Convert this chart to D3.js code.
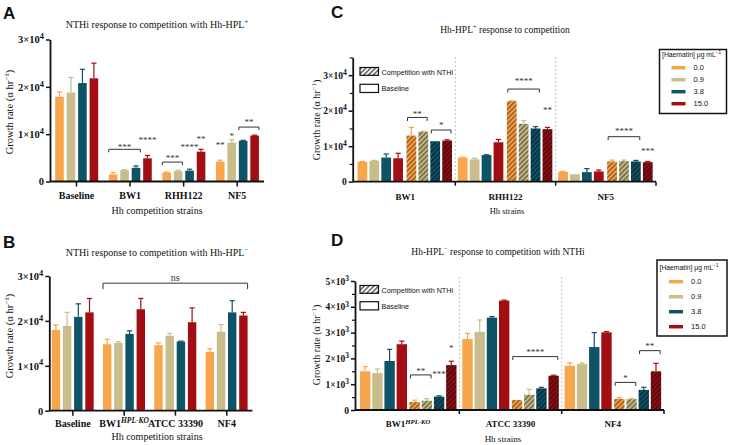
<!DOCTYPE html>
<html><head><meta charset="utf-8">
<script src="https://cdn.jsdelivr.net/npm/d3@7"></script>
<style>body{margin:0;background:#fff}svg{display:block}</style>
</head><body>
<script>
// ---------- shared ----------
const concentrations = ["0.0","0.9","3.8","15.0"];
const barColors = ["#F7A64C","#C9BD8B","#0E5366","#A30E13"];
const compFills = ["#F3A24A","#C4B886","#0E5366","#8C0F14"];
const hatchInk  = ["#7a4210","#4f4a2e","#02202a","#3a0306"];

// ---------- Panel A ----------
const aCategories = ["Baseline","BW1","RHH122","NF5"];
const aMeans  = [[17900,18800,20800,21800],[1500,2400,2900,4900],[1900,2200,2300,6300],[4200,8200,8600,9700]];
const aErrors = [[1000,3200,2900,3200],[400,100,400,600],[100,200,300,500],[300,600,100,100]];
const aYTicks = [0,10000,20000,30000];
const aBrackets = [
  {cat:"BW1",from:0,to:2,v:6800,lv:7700,label:"***"},
  {cat:"RHH122",from:0,to:1,v:4100,lv:5200,label:"***"},
  {cat:"NF5",from:2,to:3,v:11500,lv:12800,label:"**"}];
const aStars = [
  {cat:"BW1",slot:3,v:9000,label:"****"},
  {cat:"RHH122",slot:2,v:7700,label:"****"},
  {cat:"RHH122",slot:3,v:9200,label:"**"},
  {cat:"NF5",slot:0,v:8100,label:"**"},
  {cat:"NF5",slot:1,v:10000,label:"*"}];

// ---------- Panel B ----------
const bCategories = ["Baseline","BW1^HPL-KO","ATCC 33390","NF4"];
const bMeans  = [[18000,18900,20900,21900],[14800,15100,17100,22600],[14600,16700,15400,19700],[13100,17600,21900,21200]];
const bErrors = [[1100,3000,2900,3100],[1100,300,700,2400],[500,500,100,3200],[700,1600,2600,700]];
const bYTicks = [0,10000,20000,30000];
const bBrackets = [{fromCat:"BW1^HPL-KO",from:0,toCat:"NF4",to:3,v:28400,lv:29900,label:"ns"}];

// ---------- Panel C ----------
const cCategories = ["BW1","RHH122","NF5"];
const cBaseline    = [[5600,5900,6800,6600],[6800,6300,7500,11100],[2800,2100,2700,2900]];
const cBaselineErr = [[100,100,1000,1400],[100,300,100,800],[100,0,1000,400]];
const cCompetition    = [[13000,14100,11400,11600],[22700,16300,15000,14800],[5700,5800,5700,5500]];
const cCompetitionErr = [[2300,100,0,200],[100,900,500,500],[400,300,300,200]];
const cYTicks = [0,10000,20000,30000];
const cYMinor = [5000,15000,25000,35000];
const cBrackets = [
  {cat:"BW1",from:0,to:1,v:18100,lv:19400,label:"**"},
  {cat:"BW1",from:2,to:3,v:14560,lv:16300,label:"*"},
  {cat:"RHH122",from:0,to:2,v:26100,lv:28700,label:"****"},
  {cat:"NF5",from:0,to:2,v:12680,lv:14600,label:"****"}];
const cStars = [
  {cat:"RHH122",slot:3,v:20760,label:"**"},
  {cat:"NF5",slot:3,v:8930,label:"***"}];

// ---------- Panel D ----------
const dCategories = ["BW1^HPL-KO","ATCC 33390","NF4"];
const dBaseline    = [[1500,1430,1900,2550],[2750,3030,3580,4240],[1710,1780,2440,3010]];
const dBaselineErr = [[180,160,450,120],[220,460,40,20],[120,40,560,30]];
const dCompetition    = [[310,360,520,1740],[390,590,840,1330],[430,420,780,1500]];
const dCompetitionErr = [[70,80,30,150],[0,210,40,20],[50,30,100,310]];
const dYTicks = [0,1000,2000,3000,4000,5000];
const dYMinor = [500,1500,2500,3500,4500];
const dBrackets = [
  {cat:"BW1^HPL-KO",from:0,to:1,v:1360,lv:1560,label:"**"},
  {cat:"ATCC 33390",from:0,to:3,v:2070,lv:2290,label:"****"},
  {cat:"NF4",from:0,to:1,v:1070,lv:1280,label:"*"},
  {cat:"NF4",from:2,to:3,v:2300,lv:2520,label:"**"}];
const dStars = [
  {cat:"BW1^HPL-KO",slot:2,v:1445,label:"***"},
  {cat:"BW1^HPL-KO",slot:3,v:2480,label:"*"}];

// ---------- setup ----------
const SERIF = "'Liberation Serif','Times New Roman',serif";
const SANS = "'Liberation Sans',Arial,sans-serif";
const svg = d3.select("body").append("svg").attr("width",730).attr("height",445)
  .style("font-family",SERIF);
const defs = svg.append("defs");
function makeHatch(id,bg,ink){
  const p = defs.append("pattern").attr("id",id).attr("patternUnits","userSpaceOnUse")
    .attr("width",3.4).attr("height",3.4).attr("patternTransform","rotate(45)");
  p.append("rect").attr("width",3.4).attr("height",3.4).attr("fill",bg);
  p.append("line").attr("x1",0.8).attr("x2",0.8).attr("y1",0).attr("y2",3.4)
    .attr("stroke",ink).attr("stroke-width",1.1);
}
compFills.forEach((c,i)=>makeHatch("hatch"+i,c,hatchInk[i]));
makeHatch("hatchW","#fff","#222");

function rich(sel, parts, fs, supScale=0.68){
  sel.text(null);
  let shift = 0;
  parts.forEach(([s,kind])=>{
    const t = sel.append("tspan").text(s);
    const target = kind==="n" ? 0 : -fs*0.4;
    if (target!==shift) t.attr("dy", target-shift);
    shift = target;
    if (kind!=="n") t.attr("font-size", fs*supScale);
    if (kind==="si") t.attr("font-style","italic");
  });
}
function catParts(s){
  const [m,sup] = s.split("^");
  return sup ? [[m,"n"],[sup,"si"]] : [[m,"n"]];
}
function yTickParts(v,e){
  return v===0 ? [["0","n"]] : [[(v/Math.pow(10,e))+"×10","n"],[String(e),"s"]];
}
function text(x,y,parts,fs,opts={}){
  const t = svg.append("text").attr("x",x).attr("y",y).attr("font-size",fs)
    .attr("text-anchor",opts.anchor||"middle").attr("fill",opts.fill||"#111")
    .attr("font-family",opts.family||SERIF).attr("font-weight",opts.weight||"normal");
  rich(t,parts,fs);
  return t;
}
function yLabel(x,yc,fs){
  const t = svg.append("text").attr("transform",`translate(${x},${yc}) rotate(-90)`)
    .attr("text-anchor","middle").attr("font-size",fs).attr("fill","#111");
  rich(t,[["Growth rate (α hr","n"],["−1","s"],[")","n"]],fs);
}
function panelLetter(x,y,s){
  svg.append("text").attr("x",x).attr("y",y).attr("font-family",SANS).attr("font-weight","bold")
    .attr("font-size",17).attr("fill","#111").text(s);
}
function yAxis(x,y,ticks,minor,e,fs){
  const g = svg.append("g").attr("transform",`translate(${x},0)`)
    .call(d3.axisLeft(y).tickValues(ticks).tickSize(4).tickSizeOuter(0).tickPadding(2));
  g.select(".domain").attr("stroke","#111").attr("stroke-width",1.8);
  g.selectAll(".tick line").attr("stroke","#111").attr("stroke-width",1.5);
  g.selectAll(".tick text").attr("font-family",SERIF).attr("font-weight","bold")
    .attr("font-size",fs).attr("fill","#111").each(function(d){ rich(d3.select(this),yTickParts(d,e),fs,0.8); });
  if (minor){
    const m = svg.append("g").attr("transform",`translate(${x},0)`)
      .call(d3.axisLeft(y).tickValues(minor).tickSize(3).tickFormat(""));
    m.select(".domain").remove();
    m.selectAll(".tick line").attr("stroke","#111").attr("stroke-width",1.2);
  }
}
function xAxisLabels(x0,y0,size,pad,fs,lineFrom){
  const g = svg.append("g").attr("transform",`translate(0,${y0})`)
    .call(d3.axisBottom(x0).tickSize(size).tickSizeOuter(0).tickPadding(pad));
  g.select(".domain").remove();
  g.selectAll(".tick line").attr("stroke","#111").attr("stroke-width",1.5);
  g.selectAll(".tick text").attr("font-family",SERIF).attr("font-weight","bold")
    .attr("font-size",fs).attr("fill","#111").each(function(d){ rich(d3.select(this),catParts(d),fs,0.75); });
  svg.append("line").attr("x1",lineFrom).attr("x2",x0.range()[1]).attr("y1",y0).attr("y2",y0)
    .attr("stroke","#111").attr("stroke-width",1.8);
}
function bars(x,y,w,v,err,fill,errColor){
  svg.append("rect").attr("x",x).attr("y",y(v)).attr("width",w).attr("height",y(0)-y(v)).attr("fill",fill);
  if (err>0){
    const cx = x+w/2, top = y(v+err);
    svg.append("line").attr("x1",cx).attr("x2",cx).attr("y1",y(v)).attr("y2",top)
      .attr("stroke",errColor).attr("stroke-width",1.2);
    svg.append("line").attr("x1",cx-2.6).attr("x2",cx+2.6).attr("y1",top).attr("y2",top)
      .attr("stroke",errColor).attr("stroke-width",1.2);
  }
}
function bracket(xa,xb,yv,leg,labelY,label,fs){
  svg.append("path").attr("d",`M${xa},${yv+leg}V${yv}H${xb}V${yv+leg}`)
    .attr("fill","none").attr("stroke","#333").attr("stroke-width",1);
  svg.append("text").attr("x",(xa+xb)/2).attr("y",labelY).attr("text-anchor","middle")
    .attr("font-size",fs).attr("fill","#333").text(label);
}
function star(x,yCenter,label,fs){
  svg.append("text").attr("x",x).attr("y",yCenter+fs*0.5).attr("text-anchor","middle")
    .attr("font-size",fs).attr("fill","#333").text(label);
}

// ---------- draw Panel A / B (simple grouped) ----------
function simplePanel(cfg){
  const y = d3.scaleLinear().domain([0,30000]).range(cfg.yRange);
  const x0 = d3.scaleBand().domain(cfg.cats).range(cfg.xRange);
  const x1 = d3.scaleBand().domain(d3.range(4)).range(cfg.innerRange).paddingInner(0.25);
  cfg.cats.forEach((c,i)=>{
    cfg.means[i].forEach((v,k)=>bars(x0(c)+x1(k),y,x1.bandwidth(),v,cfg.errs[i][k],barColors[k],barColors[k]));
  });
  yAxis(cfg.yAxisX,y,cfg.yTicks,null,4,10.5);
  xAxisLabels(x0,cfg.yRange[0],5,cfg.tickPad,10,cfg.yAxisX);
  cfg.brackets.forEach(b=>{
    const ca = b.fromCat||b.cat, cb = b.toCat||b.cat;
    const xa = x0(ca)+x1(b.from), xb = x0(cb)+x1(b.to)+x1.bandwidth();
    bracket(xa,xb,y(b.v),b.label==="ns"?6:3,y(b.lv)+4.5,b.label,b.label==="ns"?10:9);
  });
  cfg.stars.forEach(s=>star(x0(s.cat)+x1(s.slot)+x1.bandwidth()/2,y(s.v),s.label,9));
  text(cfg.titleX,cfg.titleY,cfg.title,10);
  text(cfg.titleX,cfg.xLabelY,[["Hh competition strains","n"]],10);
  yLabel(13,cfg.yLabelY,10.5);
}
simplePanel({cats:aCategories,means:aMeans,errs:aErrors,yTicks:aYTicks,yRange:[181.5,39.5],
  xRange:[49.7,264],innerRange:[5.5,48.5],yAxisX:50,tickPad:5,brackets:aBrackets,stars:aStars,
  title:[["NTHi response to competition with Hh-HPL","n"],["+","s"]],titleX:157,titleY:28,xLabelY:214,yLabelY:112});
panelLetter(3,19,"A");
simplePanel({cats:bCategories,means:bMeans,errs:bErrors,yTicks:bYTicks,yRange:[410.7,276],
  xRange:[47.2,252.4],innerRange:[4.5,46.5],yAxisX:49.3,tickPad:4,brackets:bBrackets,stars:[],
  title:[["NTHi response to competition with Hh-HPL","n"],["−","s"]],titleX:157,titleY:256,xLabelY:440,yLabelY:336});
panelLetter(3,248,"B");

// ---------- draw Panel C / D (baseline + competition) ----------
function compPanel(cfg){
  const y = d3.scaleLinear().domain(cfg.yDomain).range(cfg.yRange);
  const x0 = d3.scaleBand().domain(cfg.cats).range(cfg.xRange);
  const xb = d3.scaleBand().domain(d3.range(4)).range(cfg.baseRange).paddingInner(cfg.pad);
  const xc = d3.scaleBand().domain(d3.range(4)).range(cfg.compRange).paddingInner(cfg.pad);
  cfg.cats.slice(0,-1).forEach(c=>{
    const sx = x0(c)+x0.bandwidth();
    svg.append("line").attr("x1",sx).attr("x2",sx).attr("y1",cfg.sepTop).attr("y2",cfg.yRange[0])
      .attr("stroke","#b5b5b5").attr("stroke-width",0.8).attr("stroke-dasharray","2,2");
  });
  cfg.cats.forEach((c,i)=>{
    cfg.base[i].forEach((v,k)=>bars(x0(c)+xb(k),y,xb.bandwidth(),v,cfg.baseErr[i][k],barColors[k],barColors[k]));
    cfg.comp[i].forEach((v,k)=>bars(x0(c)+xc(k),y,xc.bandwidth(),v,cfg.compErr[i][k],`url(#hatch${k})`,barColors[k]));
  });
  yAxis(cfg.yAxisX,y,cfg.yTicks,cfg.yMinor,cfg.exp,9.5);
  xAxisLabels(x0,cfg.yRange[0],0,cfg.tickPad,9,cfg.yAxisX);
  cfg.cats.forEach(c=>{
    const sx = x0(c)+x0.bandwidth();
    svg.append("line").attr("x1",sx).attr("x2",sx).attr("y1",cfg.yRange[0]).attr("y2",cfg.yRange[0]+4)
      .attr("stroke","#111").attr("stroke-width",1.5);
  });
  cfg.brackets.forEach(b=>{
    const xa = x0(b.cat)+xc(b.from)+1, xbb = x0(b.cat)+xc(b.to)+xc.bandwidth()-1;
    bracket(xa,xbb,y(b.v),3.5,y(b.lv)+4.5,b.label,9);
  });
  cfg.stars.forEach(s=>star(x0(s.cat)+xc(s.slot)+xc.bandwidth()/2,y(s.v),s.label,9));
  text(cfg.titleX,cfg.titleY,cfg.title,9.5);
  text(cfg.xLabelX,cfg.xLabelY,[["Hh strains","n"]],cfg.xLabelSize);
  yLabel(cfg.yLabelX,cfg.yLabelY,10);
  const L = cfg.inset;
  svg.append("rect").attr("x",L.x).attr("y",L.y1).attr("width",18.5).attr("height",7.8)
    .attr("fill","url(#hatchW)").attr("stroke","#111").attr("stroke-width",1.2);
  svg.append("rect").attr("x",L.x).attr("y",L.y2).attr("width",18.5).attr("height",8.2)
    .attr("fill","#fff").attr("stroke","#111").attr("stroke-width",1.2);
  text(L.x+21.5,L.y1+7,[["Competition with NTHi","n"]],7.2,{anchor:"start",family:SANS});
  text(L.x+21.5,L.y2+7,[["Baseline","n"]],7.2,{anchor:"start",family:SANS});
  const G = cfg.legend;
  svg.append("rect").attr("x",G.x).attr("y",G.y).attr("width",G.w).attr("height",G.h)
    .attr("fill","#fff").attr("stroke","#111").attr("stroke-width",1.5);
  text(G.x+2.5,G.titleY,[["[Haematin] μg mL","n"],["−1","s"]],6.8,{anchor:"start",family:SANS});
  concentrations.forEach((c,k)=>{
    const yy = G.firstY + k*G.step;
    svg.append("line").attr("x1",G.x+12).attr("x2",G.x+26).attr("y1",yy).attr("y2",yy)
      .attr("stroke",barColors[k]).attr("stroke-width",3.5);
    text(G.x+34,yy+2.6,[[c,"n"]],7.5,{anchor:"start",family:SANS});
  });
}
compPanel({cats:cCategories,base:cBaseline,baseErr:cBaselineErr,comp:cCompetition,compErr:cCompetitionErr,
  yDomain:[0,35000],yRange:[181.7,57.45],yTicks:cYTicks,yMinor:cYMinor,exp:4,
  xRange:[355,656],baseRange:[2.5,48],compRange:[51.5,97],pad:0.18,yAxisX:352.7,sepTop:57,tickPad:12,
  brackets:cBrackets,stars:cStars,title:[["Hh-HPL","n"],["+","s"],[" response to competition","n"]],
  titleX:505,titleY:33,xLabelX:507,xLabelY:214,xLabelSize:8.5,yLabelX:320,yLabelY:120,
  inset:{x:360,y1:67.5,y2:84.3},
  legend:{x:659.5,y:49.5,w:67,h:64,titleY:56.5,firstY:67.7,step:12}});
panelLetter(331,18,"C");
compPanel({cats:dCategories,base:dBaseline,baseErr:dBaselineErr,comp:dCompetition,compErr:dCompetitionErr,
  yDomain:[0,5000],yRange:[410,281],yTicks:dYTicks,yMinor:dYMinor,exp:3,
  xRange:[357,664],baseRange:[3,50],compRange:[52.5,99.5],pad:0.15,yAxisX:355,sepTop:277,tickPad:11,
  brackets:dBrackets,stars:dStars,title:[["Hh-HPL","n"],["−","s"],[" response to competition with NTHi","n"]],
  titleX:498,titleY:255,xLabelX:503,xLabelY:442,xLabelSize:9,yLabelX:320,yLabelY:345,
  inset:{x:360,y1:285.5,y2:301.7},
  legend:{x:657,y:260,w:70,h:76,titleY:270,firstY:281.7,step:15}});
panelLetter(331,246,"D");
</script>
</body></html>
